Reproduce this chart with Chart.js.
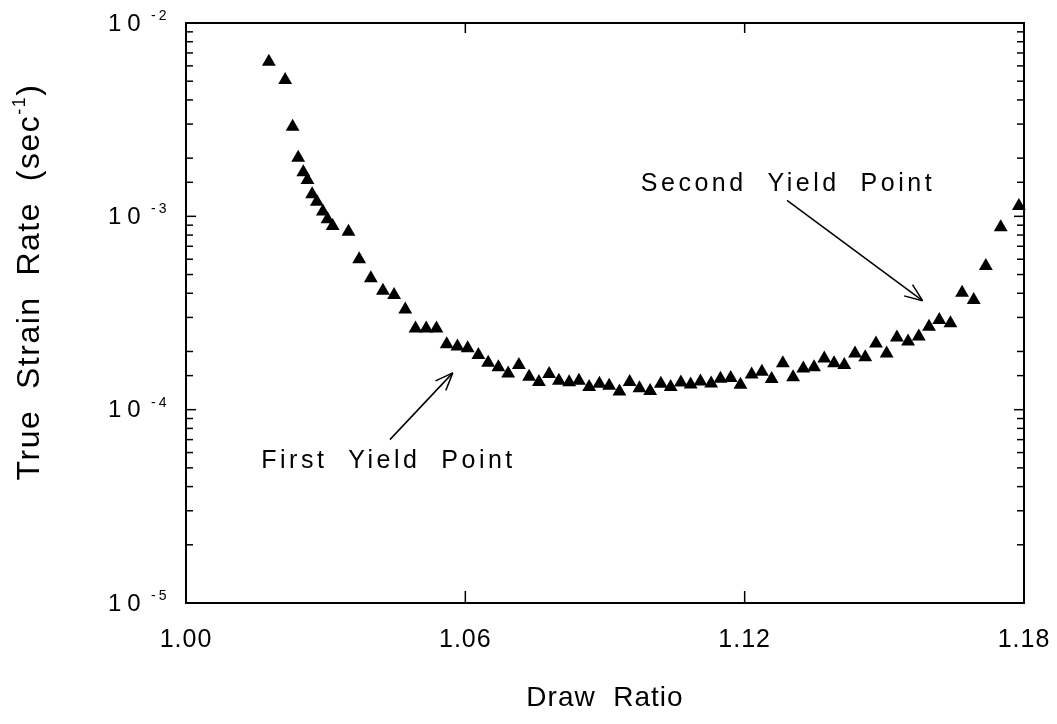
<!DOCTYPE html>
<html>
<head>
<meta charset="utf-8">
<title>True Strain Rate vs Draw Ratio</title>
<script src="https://cdn.jsdelivr.net/npm/chart.js@4/dist/chart.umd.min.js"></script>
<style>
  html, body { margin: 0; padding: 0; background: #fff; }
  #wrap { width: 1057px; height: 724px; }
</style>
</head>
<body>
<div id="wrap"><canvas id="strainChart" width="1057" height="724"></canvas></div>
<script>
// Draw ratio (x) and true strain rate in 1/sec (y), one entry per triangle
const drawRatio = [
    1.0178, 1.0213, 1.0229, 1.0241, 1.0252, 1.0261, 1.0271, 1.0281, 1.0294, 1.0304,
    1.0315, 1.0349, 1.0372, 1.0397, 1.0423, 1.0447, 1.0471, 1.0493, 1.0516, 1.0538,
    1.0560, 1.0583, 1.0605, 1.0628, 1.0649, 1.0671, 1.0692, 1.0715, 1.0737, 1.0758,
    1.0780, 1.0801, 1.0823, 1.0844, 1.0866, 1.0888, 1.0909, 1.0931, 1.0953, 1.0974,
    1.0997, 1.1020, 1.1041, 1.1063, 1.1084, 1.1105, 1.1128, 1.1148, 1.1170, 1.1191,
    1.1215, 1.1237, 1.1258, 1.1282, 1.1304, 1.1326, 1.1349, 1.1371, 1.1392, 1.1414,
    1.1437, 1.1459, 1.1482, 1.1505, 1.1527, 1.1551, 1.1574, 1.1596, 1.1618, 1.1642,
    1.1667, 1.1692, 1.1718, 1.1750, 1.1789
];
const strainRate = [
    6.30e-3, 5.07e-3, 2.91e-3, 2.01e-3, 1.69e-3, 1.54e-3, 1.30e-3, 1.19e-3, 1.06e-3, 9.65e-4,
    8.91e-4, 8.32e-4, 5.99e-4, 4.78e-4, 4.12e-4, 3.92e-4, 3.30e-4, 2.63e-4, 2.63e-4, 2.63e-4,
    2.18e-4, 2.12e-4, 2.08e-4, 1.92e-4, 1.75e-4, 1.655e-4, 1.54e-4, 1.70e-4, 1.48e-4, 1.39e-4,
    1.53e-4, 1.41e-4, 1.385e-4, 1.41e-4, 1.31e-4, 1.36e-4, 1.33e-4, 1.24e-4, 1.39e-4, 1.29e-4,
    1.25e-4, 1.36e-4, 1.31e-4, 1.38e-4, 1.35e-4, 1.40e-4, 1.365e-4, 1.445e-4, 1.46e-4, 1.345e-4,
    1.52e-4, 1.57e-4, 1.44e-4, 1.74e-4, 1.47e-4, 1.635e-4, 1.655e-4, 1.84e-4, 1.74e-4, 1.70e-4,
    1.955e-4, 1.865e-4, 2.20e-4, 1.955e-4, 2.36e-4, 2.255e-4, 2.39e-4, 2.685e-4, 2.91e-4, 2.795e-4,
    4.02e-4, 3.69e-4, 5.53e-4, 8.77e-4, 1.13e-3
];

// Axis ticks
const xTicks = [1.00, 1.06, 1.12, 1.18];
const yDecades = [1e-5, 1e-4, 1e-3, 1e-2];

// Notes with arrows, placed in data units
const notes = [
    { text: 'First  Yield  Point', at: [1.0435, 5.45e-5], tail: [1.0438, 7.0e-5], tip: [1.0573, 1.55e-4] },
    { text: 'Second  Yield  Point', at: [1.1293, 1.46e-3], tail: [1.1291, 1.21e-3], tip: [1.1582, 3.66e-4] }
];

const FONT = "'Liberation Sans', Arial, Helvetica, sans-serif";

function line(ctx, x1, y1, x2, y2) {
    ctx.beginPath();
    ctx.moveTo(x1, y1);
    ctx.lineTo(x2, y2);
    ctx.stroke();
}

// Box frame, inward ticks, decade labels, y title and the arrows
const plotDecor = {
    id: 'plotDecor',
    beforeDraw(chart) {
        chart.ctx.letterSpacing = '1px';
    },
    afterDraw(chart) {
        const { ctx, chartArea: a, scales: { x, y } } = chart;
        ctx.save();
        ctx.strokeStyle = '#000';
        ctx.fillStyle = '#000';
        ctx.lineWidth = 2;
        ctx.beginPath();
        ctx.moveTo(a.left, a.top);
        ctx.lineTo(a.right, a.top);
        ctx.lineTo(a.right, a.bottom);
        ctx.stroke();

        ctx.lineWidth = 1.5;
        y.ticks.forEach(t => {
            const py = y.getPixelForValue(t.value);
            const lg = Math.log10(t.value);
            const len = Math.abs(lg - Math.round(lg)) < 1e-6 ? 10 : 7;
            line(ctx, a.left, py, a.left + len, py);
            line(ctx, a.right, py, a.right - len, py);
        });
        x.ticks.forEach(t => {
            const px = x.getPixelForValue(t.value);
            line(ctx, px, a.bottom, px, a.bottom - 12);
            line(ctx, px, a.top, px, a.top + 10);
        });

        // decade labels: "10" with raised exponent
        ctx.textAlign = 'left';
        ctx.textBaseline = 'middle';
        yDecades.forEach(v => {
            const py = y.getPixelForValue(v);
            const exp = '-' + Math.abs(Math.round(Math.log10(v)));
            ctx.letterSpacing = '6px';
            ctx.font = '24px ' + FONT;
            ctx.fillText('10', a.left - 78, py + 1);
            ctx.letterSpacing = '3px';
            ctx.font = '14px ' + FONT;
            ctx.fillText(exp, a.left - 35, py - 7);
        });

        // y axis title with superscript
        ctx.save();
        ctx.letterSpacing = '1.5px';
        ctx.translate(30, 282);
        ctx.rotate(-Math.PI / 2);
        ctx.textBaseline = 'middle';
        ctx.textAlign = 'left';
        const main = 'True  Strain  Rate  (sec';
        ctx.font = '32px ' + FONT;
        const w1 = ctx.measureText(main).width;
        ctx.font = '18px ' + FONT;
        const w2 = ctx.measureText('-1').width;
        ctx.font = '32px ' + FONT;
        const w3 = ctx.measureText(')').width;
        let sx = -(w1 + w2 + w3) / 2;
        ctx.fillText(main, sx, 0);
        sx += w1;
        ctx.font = '18px ' + FONT;
        ctx.fillText('-1', sx, -10);
        sx += w2;
        ctx.font = '32px ' + FONT;
        ctx.fillText(')', sx, 0);
        ctx.restore();

        // notes and arrows
        ctx.letterSpacing = '3.5px';
        ctx.font = '25px ' + FONT;
        ctx.textAlign = 'center';
        ctx.textBaseline = 'middle';
        ctx.lineWidth = 1.5;
        notes.forEach(n => {
            ctx.fillText(n.text, x.getPixelForValue(n.at[0]), y.getPixelForValue(n.at[1]));
            const x1 = x.getPixelForValue(n.tail[0]), y1 = y.getPixelForValue(n.tail[1]);
            const x2 = x.getPixelForValue(n.tip[0]), y2 = y.getPixelForValue(n.tip[1]);
            line(ctx, x1, y1, x2, y2);
            const ang = Math.atan2(y2 - y1, x2 - x1);
            [-0.38, 0.38].forEach(d => {
                line(ctx, x2, y2, x2 - 19 * Math.cos(ang + d), y2 - 19 * Math.sin(ang + d));
            });
        });
        ctx.restore();
    }
};

new Chart(document.getElementById('strainChart'), {
    type: 'scatter',
    data: {
        datasets: [{
            label: 'True Strain Rate',
            data: drawRatio.map((d, i) => ({ x: d, y: strainRate[i] })),
            pointStyle: 'triangle',
            pointRadius: 8,
            backgroundColor: '#000',
            borderColor: '#000',
            borderWidth: 0,
            clip: false
        }]
    },
    options: {
        responsive: false,
        animation: false,
        events: [],
        layout: { autoPadding: false, padding: { top: 23, right: 33, left: 0, bottom: 0 } },
        plugins: {
            legend: { display: false },
            tooltip: { enabled: false }
        },
        scales: {
            x: {
                type: 'linear',
                min: 1.00,
                max: 1.18,
                afterBuildTicks: scale => {
                    scale.ticks = xTicks.map(v => ({ value: v }));
                },
                afterFit: scale => {
                    scale.height = 121;
                    // end labels may hang past the frame
                    scale.paddingLeft = 0;
                    scale.paddingRight = 0;
                },
                grid: { display: false, drawTicks: false },
                border: { display: true, color: '#000', width: 2 },
                ticks: {
                    color: '#000',
                    padding: 22,
                    maxRotation: 0,
                    font: { family: FONT, size: 25 },
                    callback: v => v.toFixed(2)
                },
                title: {
                    display: true,
                    text: 'Draw  Ratio',
                    color: '#000',
                    font: { family: FONT, size: 28 },
                    padding: { top: 0, bottom: 9 }
                }
            },
            y: {
                type: 'logarithmic',
                min: 1e-5,
                max: 1e-2,
                afterFit: scale => { scale.width = 186; },
                grid: { display: false, drawTicks: false },
                border: { display: true, color: '#000', width: 2 },
                ticks: { display: false }
            }
        }
    },
    plugins: [plotDecor]
});
</script>
</body>
</html>
